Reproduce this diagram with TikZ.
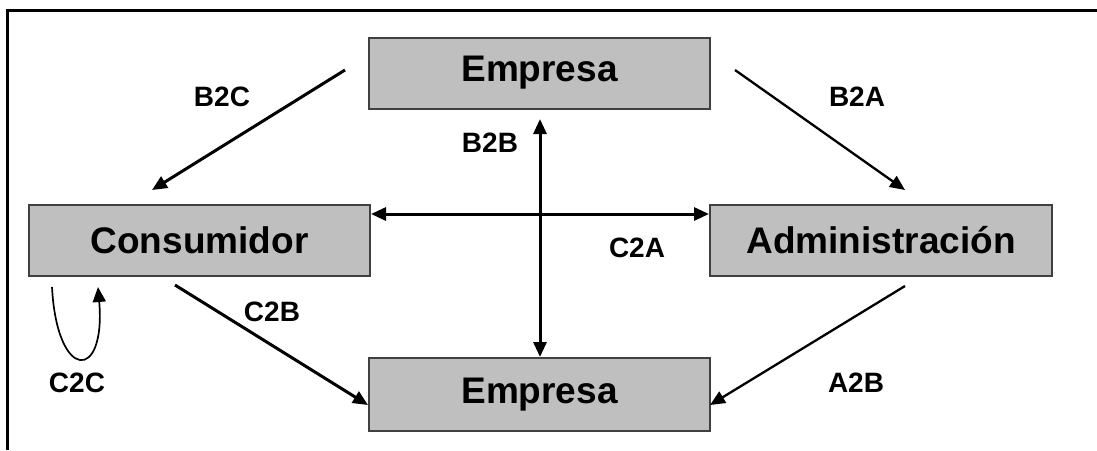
\documentclass[tikz,border=0pt]{standalone}
\usepackage{fontspec}
\setmainfont{Liberation Sans}
\usetikzlibrary{arrows.meta}
\tikzset{
  box/.style={draw=black!75, line width=2pt, fill=black!25, minimum width=#1, minimum height=71pt, inner sep=0pt, font=\fontsize{37}{40}\selectfont\bfseries},
  lbl/.style={font=\fontsize{28}{30}\selectfont\bfseries, inner sep=0pt},
  tip/.style={-{Triangle[length=15pt,width=13pt]}},
  thick arr/.style={line width=3pt, tip},
  thin arr/.style={line width=2.3pt, tip},
  both arr/.style={line width=3pt, {Triangle[length=15pt,width=13pt]}-{Triangle[length=15pt,width=13pt]}},
  frame/.style={line width=3pt, black}
}
\begin{document}
\begin{tikzpicture}[x=1pt,y=-1pt]
\useasboundingbox (0,0) rectangle (1097,450);
\draw[frame] (7,450) -- (7,10) -- (1097,10);

\node[box=341pt] (emp1) at (539.5,73) {Empresa};
\node[box=341pt] (cons) at (199.5,240.5) {Consumidor};
\node[box=342pt] (adm) at (881,240.5) {Administración};
\node[box=341pt, minimum height=73pt] (emp2) at (539.5,394.5) {Empresa};

% free ends
\coordinate (b2cS) at (345,70);
\coordinate (b2cE) at (152,190);
\coordinate (b2aS) at (735,70);
\coordinate (b2aE) at (905,190);
\coordinate (c2bS) at (175,285);
\coordinate (c2bE) at (368,405);
\coordinate (a2bS) at (905,286);
\coordinate (a2bE) at (710,405);
\coordinate (b2bT) at (540,119);
\coordinate (c2cS) at (52,287);
\coordinate (c2cE) at (98,287);

\draw[thick arr] (b2cS) -- (b2cE);
\draw[thin arr] (b2aS) -- (b2aE);
\draw[thick arr] (c2bS) -- (c2bE);
\draw[thin arr] (a2bS) -- (a2bE);
\draw[both arr] (b2bT) -- (b2bT |- emp2.north);
\draw[both arr] (cons.east |- 0,214) -- (adm.west |- 0,214);
\draw[line width=1.7pt, tip] (c2cS) .. controls (57,382) and (106,382) .. (c2cE);

\node[lbl] (lb2c) at (222,97) {B2C};
\node[lbl] (lb2a) at (857,97) {B2A};
\node[lbl] (lb2b) at (490,143) {B2B};
\node[lbl] (lc2a) at (637,248) {C2A};
\node[lbl] (lc2b) at (272,312) {C2B};
\node[lbl] (lc2c) at (77,383) {C2C};
\node[lbl] (la2b) at (856,383) {A2B};
\end{tikzpicture}
\end{document}
